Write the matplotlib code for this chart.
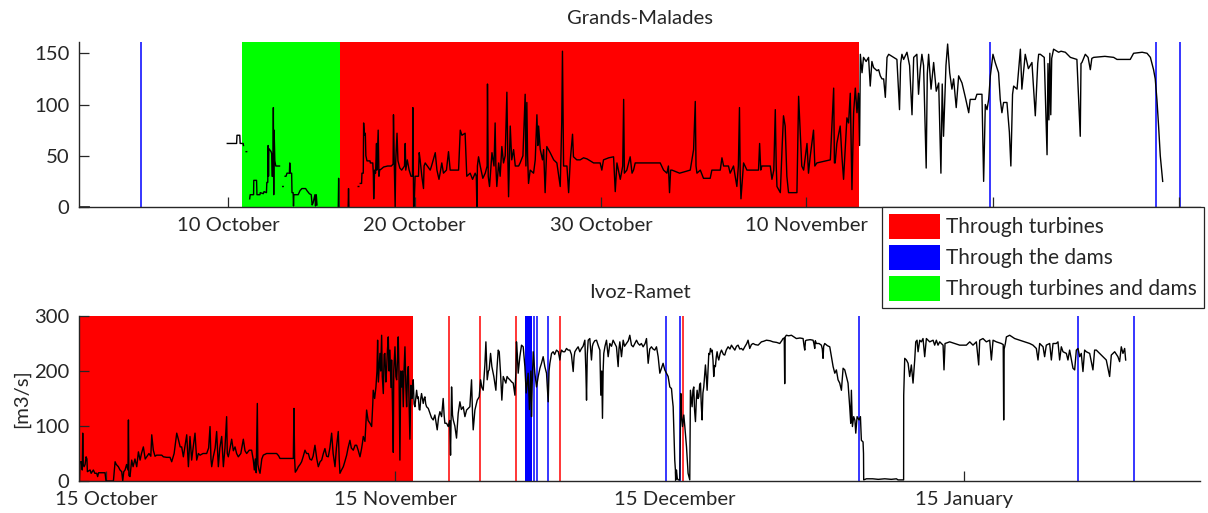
import datetime as dt

import numpy as np
import matplotlib
matplotlib.use("Agg")
import matplotlib.pyplot as plt
import matplotlib.dates as mdates
from matplotlib.patches import Patch
from matplotlib.ticker import FuncFormatter

# Time axis: days elapsed since 1 October (fractional days)
START = dt.datetime(2012, 10, 1)

# ---------------------------------------------------------------- Grands-Malades
# (day, discharge m3/s); None marks a gap in the record
gm_points = [
    (1.05, 0), (1.55, 0), (1.56, None),
    (8.95, 62), (9.45, 62), (9.47, 70), (9.62, 70), (9.64, 62), (9.80, 62), (9.82, 60), (9.83, None),
    (9.96, 54), (9.99, 54), (10.0, None),
    (10.15, 8), (10.18, 12), (10.36, 12), (10.37, 26), (10.52, 26), (10.54, 12), (10.70, 12),
    (10.72, 14), (10.88, 13), (10.92, 15), (11.05, 14), (11.07, 24), (11.12, 24), (11.14, 60),
    (11.16, 30), (11.18, 57), (11.30, 54), (11.33, 52), (11.35, 30), (11.40, 30), (11.42, 97),
    (11.44, 12), (11.46, 75), (11.50, 45), (11.55, 40), (11.75, 40), (11.76, None),
    (11.92, 20), (11.95, 20), (11.96, None),
    (12.05, 30), (12.10, 30), (12.15, 33), (12.28, 33), (12.30, 43), (12.33, 33), (12.40, 33),
    (12.42, 14), (12.48, 14), (12.50, 1), (12.52, 12), (12.75, 12), (12.85, 16), (12.95, 18),
    (13.15, 18), (13.22, 16), (13.35, 13), (13.45, 12), (13.50, 2), (13.55, 4), (13.65, 12),
    (13.68, 1), (13.72, 12), (13.76, 2), (13.77, None),
    (14.90, 0), (14.92, 28), (14.94, 0), (14.95, None),
    (15.43, 0), (15.45, 18), (15.47, 0), (15.48, None),
    (15.97, 20), (16.0, 20), (16.01, None),
    (16.08, 23), (16.15, 23), (16.17, 33), (16.24, 33), (16.26, 82), (16.30, 70), (16.35, 72),
    (16.38, 50), (16.44, 45), (16.60, 45), (16.62, 43), (16.75, 43), (16.78, 33), (16.80, 8),
    (16.85, 36), (16.90, 33), (16.95, 62), (16.97, 36), (17.04, 75), (17.08, 30), (17.12, 36),
    (17.20, 37), (17.33, 39), (17.55, 40), (17.75, 40), (17.84, 42), (17.86, 90), (17.90, 45),
    (17.95, 0), (17.98, 45), (18.05, 72), (18.10, 45), (18.2, 38), (18.3, 36), (18.45, 40),
    (18.49, 62), (18.52, 36), (18.6, 46), (18.7, 36), (18.8, 30), (18.88, 30), (18.90, 97),
    (18.94, 0), (18.97, 2), (19.02, 30), (19.2, 30), (19.24, 53), (19.29, 46), (19.38, 30),
    (19.47, 18), (19.5, 40), (19.56, 43), (19.83, 36), (19.9, 40), (20.1, 53), (20.19, 36),
    (20.3, 27), (20.36, 33), (20.45, 43), (20.54, 33), (20.7, 36), (20.81, 54), (20.9, 36),
    (21.35, 36), (21.44, 75), (21.53, 70), (21.7, 72), (21.79, 30), (21.97, 33), (22.1, 27),
    (22.24, 33), (22.3, 30), (22.33, 0), (22.36, 40), (22.42, 49), (22.51, 40), (22.65, 28),
    (22.78, 33), (22.88, 40), (22.90, 120), (22.94, 30), (23.01, 20), (23.14, 53), (23.25, 40),
    (23.31, 82), (23.35, 40), (23.4, 20), (23.5, 43), (23.58, 30), (23.67, 59), (23.76, 43),
    (23.85, 50), (23.94, 112), (23.98, 60), (24.03, 10), (24.12, 79), (24.2, 46), (24.3, 56),
    (24.39, 40), (24.57, 40), (24.65, 43), (24.8, 50), (24.92, 110), (24.96, 40), (25.01, 102),
    (25.05, 50), (25.1, 23), (25.19, 36), (25.37, 33), (25.46, 46), (25.55, 90), (25.6, 60),
    (25.64, 79), (25.73, 56), (25.85, 46), (25.91, 56), (25.99, 14), (26.08, 59), (26.26, 53),
    (26.45, 46), (26.62, 43), (26.8, 20), (26.88, 82), (26.92, 152), (26.96, 82), (26.98, 40),
    (27.16, 40), (27.25, 14), (27.34, 46), (27.46, 71), (27.51, 49), (27.69, 46), (27.87, 46),
    (28.05, 48), (28.23, 47), (28.59, 43), (28.94, 43), (29.03, 36), (29.12, 46), (29.4, 48),
    (29.66, 49), (29.75, 15), (29.84, 43), (30.02, 27), (30.15, 40), (30.2, 105), (30.24, 33),
    (30.37, 36), (30.55, 49), (30.65, 33), (30.73, 36), (30.82, 43), (31.27, 43), (31.45, 43),
    (32.16, 43), (32.34, 36), (32.52, 33), (32.6, 40), (32.66, 14), (32.72, 36), (32.79, 36),
    (33.2, 33), (33.77, 36), (33.95, 56), (34.04, 103), (34.08, 40), (34.13, 33), (34.31, 36),
    (34.48, 28), (34.84, 28), (34.93, 36), (35.38, 36), (35.47, 48), (35.56, 40), (35.82, 40),
    (35.91, 33), (36.09, 40), (36.27, 20), (36.35, 40), (36.41, 97), (36.45, 30), (36.49, 8),
    (36.63, 43), (36.81, 36), (37.43, 36), (37.49, 62), (37.55, 36), (37.61, 40), (38.06, 40),
    (38.15, 27), (38.25, 36), (38.33, 95), (38.38, 40), (38.42, 20), (38.6, 14), (38.7, 60),
    (38.77, 89), (38.86, 79), (38.95, 30), (39.04, 14), (39.49, 14), (39.58, 108), (39.67, 72),
    (39.75, 40), (39.85, 36), (40.03, 62), (40.11, 33), (40.2, 49), (40.38, 75), (40.45, 40),
    (40.56, 43), (41.28, 46), (41.46, 116), (41.5, 43), (41.54, 43), (41.63, 62), (41.81, 79),
    (41.9, 50), (41.99, 27), (42.17, 87), (42.26, 82), (42.35, 111), (42.44, 17), (42.53, 92),
    (42.62, 116), (42.71, 92), (42.79, 111), (42.85, 60), (42.89, 149), (42.98, 131),
    (43.06, 146), (43.2, 142), (43.33, 146), (43.42, 118), (43.51, 142), (43.6, 136),
    (43.78, 133), (43.87, 134), (43.96, 128), (44.05, 125), (44.14, 125), (44.23, 107),
    (44.32, 146), (44.41, 149), (44.67, 146), (44.85, 144), (44.99, 95), (45.05, 140),
    (45.12, 149), (45.21, 144), (45.39, 151), (45.53, 138), (45.66, 90), (45.75, 146),
    (45.92, 149), (46.01, 110), (46.1, 134), (46.19, 149), (46.28, 138), (46.42, 38),
    (46.48, 130), (46.55, 149), (46.68, 115), (46.82, 141), (46.96, 113), (47.09, 121),
    (47.21, 33), (47.28, 120), (47.35, 69), (47.48, 138), (47.57, 159), (47.68, 131),
    (47.8, 115), (47.89, 125), (48.03, 97), (48.16, 128), (48.34, 121), (48.52, 107),
    (48.7, 92), (48.78, 105), (49.05, 105), (49.14, 110), (49.41, 110), (49.5, 25),
    (49.59, 100), (49.68, 95), (49.77, 105), (49.86, 128), (50.0, 149), (50.12, 141),
    (50.3, 131), (50.39, 105), (50.48, 92), (50.57, 102), (50.75, 102), (50.88, 73),
    (50.96, 40), (51.05, 110), (51.11, 118), (51.29, 115), (51.47, 154), (51.55, 115),
    (51.73, 149), (51.9, 135), (52.09, 141), (52.27, 89), (52.4, 140), (52.45, 149),
    (52.54, 149), (52.75, 146), (52.9, 51), (52.95, 140), (53.0, 85), (53.05, 150),
    (53.1, 90), (53.15, 145), (53.25, 154), (53.52, 151), (53.65, 152), (53.88, 151),
    (54.15, 146), (54.5, 144), (54.68, 69), (54.72, 140), (54.77, 141), (54.95, 149),
    (55.1, 146), (55.22, 134), (55.3, 145), (55.4, 146), (56.0, 147), (56.47, 146),
    (56.65, 144), (57.36, 144), (57.54, 150), (58.0, 151), (58.26, 150), (58.44, 146),
    (58.61, 134), (58.7, 125), (58.79, 105), (58.88, 79), (58.97, 50), (59.1, 25),
]
gm_turbines = (15.0, 42.83)          # turbines only
gm_mixed = (9.75, 15.0)              # turbines and dams
gm_dam_days = [4.34, 49.86, 58.76, 60.05]

# ---------------------------------------------------------------- Ivoz-Ramet
ir_points = [
    (11.15, 0), (11.21, 35), (11.35, 35), (11.45, 20), (11.5, 87), (11.55, 30), (11.64, 26),
    (11.75, 30), (11.86, 44), (11.95, 40), (12.0, 17), (12.29, 20), (12.4, 14), (12.64, 20),
    (12.8, 14), (13.0, 14), (13.1, 8), (13.2, 15), (13.36, 15), (13.89, 15), (14.0, 0),
    (14.79, 0), (14.97, 35), (15.1, 30), (15.32, 26), (15.5, 20), (15.68, 17), (15.79, 0),
    (15.9, 17), (16.04, 20), (16.2, 30), (16.35, 20), (16.4, 111), (16.45, 10), (16.57, 8),
    (16.75, 38), (16.9, 26), (17.1, 40), (17.29, 26), (17.47, 53), (17.65, 38), (17.8, 50),
    (18.0, 62), (18.2, 40), (18.36, 44), (18.6, 50), (18.8, 45), (18.9, 84), (19.07, 56),
    (19.25, 45), (19.43, 47), (19.7, 47), (19.97, 47), (20.15, 44), (20.5, 43), (20.86, 43),
    (21.04, 35), (21.3, 50), (21.58, 87), (21.75, 76), (21.95, 62), (22.11, 62), (22.29, 44),
    (22.45, 62), (22.65, 84), (22.83, 26), (23.0, 81), (23.18, 38), (23.35, 62), (23.54, 87),
    (23.72, 38), (23.9, 50), (24.08, 47), (24.4, 50), (24.79, 50), (25.0, 60), (25.15, 99),
    (25.25, 40), (25.33, 26), (25.5, 44), (25.7, 60), (25.86, 90), (26.04, 26), (26.2, 60),
    (26.4, 81), (26.58, 26), (26.75, 60), (26.93, 117), (27.0, 50), (27.11, 44), (27.3, 60),
    (27.47, 76), (27.65, 55), (27.83, 62), (28.0, 50), (28.18, 44), (28.45, 50), (28.72, 76),
    (28.9, 55), (29.08, 50), (29.35, 56), (29.61, 56), (29.79, 38), (29.9, 20), (30.0, 40),
    (30.1, 15), (30.22, 141), (30.28, 30), (30.4, 20), (30.51, 14), (30.7, 40), (30.86, 47),
    (31.22, 50), (31.8, 50), (32.29, 50), (32.5, 46), (32.65, 41), (33.01, 41), (33.5, 41),
    (34.08, 41), (34.15, 132), (34.22, 40), (34.29, 16), (34.45, 20), (34.62, 26), (34.8, 30),
    (34.97, 35), (35.15, 45), (35.33, 56), (35.5, 50), (35.69, 50), (35.85, 40), (36.04, 38),
    (36.2, 45), (36.4, 65), (36.6, 40), (36.76, 26), (36.95, 35), (37.12, 38), (37.3, 50),
    (37.47, 59), (37.65, 45), (37.83, 44), (38.0, 60), (38.19, 87), (38.35, 50), (38.55, 26),
    (38.7, 60), (38.9, 90), (39.0, 40), (39.08, 14), (39.25, 20), (39.44, 26), (39.6, 35),
    (39.8, 47), (39.95, 60), (40.15, 74), (40.3, 60), (40.51, 56), (40.7, 65), (40.87, 65),
    (41.05, 55), (41.23, 44), (41.4, 59), (41.5, 70), (41.58, 81), (41.76, 72), (41.94, 129),
    (42.1, 110), (42.3, 105), (42.48, 99), (42.6, 140), (42.65, 165), (42.8, 150), (42.94, 171),
    (43.05, 200), (43.12, 256), (43.2, 180), (43.37, 232), (43.45, 200), (43.55, 265),
    (43.62, 190), (43.73, 159), (43.82, 230), (43.9, 232), (44.0, 180), (44.08, 202),
    (44.18, 240), (44.26, 262), (44.35, 200), (44.44, 238), (44.55, 170), (44.62, 220),
    (44.7, 150), (44.8, 52), (44.85, 200), (44.98, 244), (45.08, 190), (45.16, 184),
    (45.25, 220), (45.33, 262), (45.42, 190), (45.51, 38), (45.6, 200), (45.69, 171),
    (45.78, 200), (45.87, 135), (45.95, 200), (46.05, 244), (46.15, 170), (46.23, 135),
    (46.32, 190), (46.41, 208), (46.5, 140), (46.58, 76), (46.69, 174), (46.8, 150),
    (46.87, 165), (46.94, 184), (47.03, 140), (47.12, 135), (47.3, 165), (47.4, 150),
    (47.48, 153), (47.58, 130), (47.65, 129), (47.75, 150), (47.83, 159), (48.01, 141),
    (48.1, 150), (48.19, 153), (48.28, 140), (48.37, 135), (48.55, 132), (48.73, 123),
    (48.9, 115), (49.08, 111), (49.26, 120), (49.4, 105), (49.51, 93), (49.65, 115),
    (49.8, 126), (49.98, 117), (50.15, 150), (50.25, 120), (50.33, 105), (50.51, 105),
    (50.69, 99), (50.85, 110), (50.94, 47), (51.05, 171), (51.15, 120), (51.23, 111),
    (51.4, 100), (51.58, 78), (51.76, 123), (51.94, 144), (52.1, 130), (52.3, 135),
    (52.48, 117), (52.66, 129), (52.83, 132), (53.01, 135), (53.19, 184), (53.3, 120),
    (53.37, 93), (53.55, 129), (53.8, 147), (54.01, 153), (54.16, 184), (54.3, 170),
    (54.44, 165), (54.62, 211), (54.73, 253), (54.87, 184), (55.0, 200), (55.08, 202),
    (55.23, 232), (55.37, 208), (55.58, 190), (55.8, 165), (55.9, 200), (56.05, 238),
    (56.16, 235), (56.3, 196), (56.44, 147), (56.59, 190), (56.87, 178), (57.0, 190),
    (57.12, 187), (57.3, 184), (57.5, 180), (57.66, 178), (57.84, 156), (57.95, 200),
    (58.01, 253), (58.1, 230), (58.19, 196), (58.37, 226), (58.55, 247), (58.73, 244),
    (58.91, 208), (59.05, 160), (59.26, 196), (59.4, 130), (59.55, 200), (59.62, 117),
    (59.7, 180), (59.8, 235), (59.98, 196), (60.16, 171), (60.34, 190), (60.52, 205),
    (60.69, 214), (60.87, 226), (61.05, 208), (61.23, 196), (61.41, 144), (61.5, 200),
    (61.59, 214), (61.77, 232), (61.94, 235), (62.1, 230), (62.3, 238), (62.5, 235),
    (62.66, 220), (62.75, 232), (62.84, 238), (63.0, 235), (63.19, 235), (63.37, 241),
    (63.55, 238), (63.73, 238), (63.9, 230), (64.09, 199), (64.18, 225), (64.27, 235),
    (64.45, 240), (64.62, 244), (64.8, 235), (64.98, 241), (65.15, 245), (65.34, 256),
    (65.45, 200), (65.52, 147), (65.6, 230), (65.7, 256), (65.87, 259), (66.05, 220),
    (66.15, 245), (66.23, 250), (66.4, 255), (66.59, 256), (66.8, 245), (66.95, 238),
    (67.05, 156), (67.15, 200), (67.23, 114), (67.3, 200), (67.37, 232), (67.5, 245),
    (67.66, 256), (67.84, 226), (68.02, 250), (68.2, 245), (68.37, 256), (68.55, 250),
    (68.73, 244), (68.91, 208), (69.0, 240), (69.09, 253), (69.27, 226), (69.45, 256),
    (69.6, 245), (69.8, 250), (70.0, 255), (70.16, 265), (70.34, 247), (70.52, 244),
    (70.7, 250), (70.88, 256), (71.05, 250), (71.23, 247), (71.4, 250), (71.59, 244),
    (71.8, 250), (71.95, 259), (72.13, 214), (72.3, 240), (72.48, 244), (72.65, 240),
    (72.84, 238), (73.02, 244), (73.2, 226), (73.38, 196), (73.55, 205), (73.73, 214),
    (73.91, 202), (74.09, 196), (74.27, 190), (74.45, 171), (74.63, 168), (74.72, 150),
    (74.81, 135), (74.98, 38), (75.05, 20), (75.09, 2), (75.16, 20), (75.25, 5), (75.34, 2),
    (75.52, 2), (75.63, 159), (75.7, 120), (75.81, 99), (75.95, 120), (76.06, 99),
    (76.24, 62), (76.41, 14), (76.59, 2), (76.66, 165), (76.75, 150), (76.84, 135),
    (76.93, 165), (77.02, 171), (77.1, 130), (77.2, 108), (77.3, 150), (77.38, 165),
    (77.47, 150), (77.56, 153), (77.65, 175), (77.74, 178), (77.82, 140), (77.91, 111),
    (78.0, 160), (78.09, 171), (78.18, 190), (78.27, 211), (78.36, 190), (78.45, 165),
    (78.54, 200), (78.63, 232), (78.72, 230), (78.81, 241), (78.9, 235), (78.99, 238),
    (79.08, 220), (79.16, 190), (79.25, 210), (79.34, 208), (79.43, 225), (79.52, 235),
    (79.61, 225), (79.7, 220), (79.85, 232), (79.99, 238), (80.2, 230), (80.34, 229),
    (80.5, 238), (80.7, 244), (80.9, 240), (81.06, 247), (81.25, 242), (81.42, 238),
    (81.6, 245), (81.77, 247), (81.95, 240), (82.13, 241), (82.3, 238), (82.49, 244),
    (82.7, 250), (82.84, 256), (83.02, 241), (83.2, 248), (83.38, 250), (83.6, 248),
    (83.92, 247), (84.1, 250), (84.27, 253), (84.5, 254), (84.81, 256), (85.2, 255),
    (85.52, 253), (85.9, 252), (86.24, 250), (86.45, 255), (86.59, 259), (86.72, 260),
    (86.77, 177), (86.82, 262), (86.95, 265), (87.2, 264), (87.49, 265), (87.75, 262),
    (88.02, 259), (88.4, 260), (88.74, 259), (88.85, 245), (88.92, 238), (89.0, 255),
    (89.1, 256), (89.5, 257), (89.81, 256), (89.9, 250), (89.99, 241), (90.05, 255),
    (90.17, 250), (90.45, 250), (90.7, 247), (90.8, 240), (90.88, 223), (90.95, 245),
    (91.06, 250), (91.35, 246), (91.6, 244), (91.78, 226), (91.96, 208), (92.14, 196),
    (92.31, 202), (92.49, 184), (92.67, 178), (92.85, 165), (93.03, 205), (93.21, 202),
    (93.39, 190), (93.56, 178), (93.74, 135), (93.85, 105), (93.92, 165), (94.03, 99),
    (94.17, 117), (94.3, 110), (94.39, 87), (94.53, 117), (94.74, 111), (94.89, 117),
    (94.99, 74), (95.17, 71), (95.22, 50), (95.24, 2), (95.53, 4), (96.2, 4), (96.8, 3),
    (97.5, 4), (98.2, 3), (98.75, 4), (98.92, 2), (99.52, 2), (99.53, 156), (99.64, 223),
    (99.82, 220), (100.0, 214), (100.17, 190), (100.35, 211), (100.53, 178), (100.71, 220),
    (100.82, 253), (100.96, 256), (101.07, 235), (101.25, 256), (101.42, 253), (101.6, 259),
    (101.78, 226), (101.96, 259), (102.14, 256), (102.32, 253), (102.68, 256), (102.85, 247),
    (103.03, 256), (103.21, 247), (103.39, 253), (103.75, 247), (103.85, 202), (103.96, 250),
    (104.46, 253), (105.0, 250), (105.53, 247), (106.25, 247), (106.61, 253), (106.96, 247),
    (107.32, 253), (107.57, 211), (107.68, 256), (108.03, 259), (108.39, 253), (108.75, 256),
    (108.93, 220), (109.11, 256), (109.46, 253), (110.0, 250), (110.2, 248), (110.25, 111),
    (110.3, 240), (110.43, 250), (110.54, 262), (110.89, 265), (111.43, 259), (111.96, 256),
    (112.5, 253), (113.04, 250), (113.39, 247), (113.75, 241), (113.93, 220), (114.11, 250),
    (114.47, 244), (114.64, 226), (114.82, 247), (115.18, 250), (115.36, 220), (115.54, 250),
    (115.89, 250), (116.07, 253), (116.25, 220), (116.43, 244), (116.61, 235), (116.97, 232),
    (117.14, 220), (117.32, 238), (117.68, 205), (117.86, 202), (118.04, 238), (118.22, 241),
    (118.4, 226), (118.57, 232), (118.75, 199), (118.93, 238), (119.11, 235), (119.47, 232),
    (119.82, 202), (120.0, 238), (120.18, 238), (120.54, 232), (120.9, 226), (121.25, 220),
    (121.61, 190), (121.79, 229), (122.15, 235), (122.5, 226), (122.68, 217), (122.86, 244),
    (123.04, 232), (123.22, 241), (123.33, 220),
]
ir_turbines = (11.1, 46.9)
ir_turbine_days = [50.76, 54.09, 57.94, 62.66, 75.84]
ir_dam_band = (58.93, 59.62)
ir_dam_days = [59.87, 60.2, 61.37, 74.02, 75.52, 94.71, 118.18, 124.18]

GM_XLIM = (1.0, 61.1)
GM_LABELLED_UNTIL = 45.0   # later date labels sit beneath the legend box
IR_XLIM = (11.1, 131.3)

legend_labels = ["Through turbines", "Through the dams", "Through turbines and dams"]

RED, BLUE, GREEN = "#ff0000", "#0000ff", "#00ff00"
INK = "#262626"
FS = 14.6
LEG_FS = 15.0

plt.rcParams["font.family"] = ["Lato", "DejaVu Sans"]
plt.rcParams["text.color"] = INK
plt.rcParams["axes.labelcolor"] = INK
plt.rcParams["xtick.color"] = INK
plt.rcParams["ytick.color"] = INK

base = mdates.date2num(START)
date_fmt = mdates.DateFormatter("%-d %B")


def split(points):
    t = np.array([p[0] for p in points], float) + base
    q = np.array([np.nan if p[1] is None else p[1] for p in points], float)
    return t, q


def style_axes(ax, title):
    for side in ("top", "right"):
        ax.spines[side].set_visible(False)
    for side in ("left", "bottom"):
        ax.spines[side].set_color(INK)
        ax.spines[side].set_linewidth(1.0)
    ax.tick_params(direction="in", length=7, width=0.9, labelsize=FS, pad=7)
    ax.set_title(title, fontsize=FS, color=INK, pad=13)


fig = plt.figure(figsize=(12.08, 5.13), dpi=100)
W, H = 1208, 513
ax1 = fig.add_axes([79 / W, 1 - 207 / H, 1121 / W, 165 / H])
ax2 = fig.add_axes([79 / W, 1 - 481 / H, 1121 / W, 165 / H])

# Grands-Malades panel
ax1.axvspan(base + gm_mixed[0], base + gm_mixed[1], color=GREEN, lw=0, zorder=0)
ax1.axvspan(base + gm_turbines[0], base + gm_turbines[1], color=RED, lw=0, zorder=0)
for d in gm_dam_days:
    ax1.axvline(base + d, color=BLUE, lw=1.1, zorder=1)
t, q = split(gm_points)
ax1.plot(t, q, color="black", lw=1.0, zorder=2)
ax1.set_xlim(base + GM_XLIM[0], base + GM_XLIM[1])
ax1.set_ylim(0, 161)
ax1.set_yticks([0, 50, 100, 150])
ax1.xaxis.set_major_locator(mdates.DayLocator(bymonthday=[10, 20, 30]))
ax1.xaxis.set_major_formatter(FuncFormatter(
    lambda x, pos: date_fmt(x, pos) if x <= base + GM_LABELLED_UNTIL else ""))
style_axes(ax1, "Grands-Malades")

# Ivoz-Ramet panel
ax2.axvspan(base + ir_turbines[0], base + ir_turbines[1], color=RED, lw=0, zorder=0)
ax2.axvspan(base + ir_dam_band[0], base + ir_dam_band[1], color=BLUE, lw=0, zorder=0)
for d in ir_turbine_days:
    ax2.axvline(base + d, color=RED, lw=1.1, zorder=1)
for d in ir_dam_days:
    ax2.axvline(base + d, color=BLUE, lw=1.1, zorder=1)
t, q = split(ir_points)
ax2.plot(t, q, color="black", lw=1.0, zorder=2)
ax2.set_xlim(base + IR_XLIM[0], base + IR_XLIM[1])
ax2.set_ylim(0, 300)
ax2.set_yticks([0, 100, 200, 300])
ax2.xaxis.set_major_locator(mdates.DayLocator(bymonthday=15))
ax2.xaxis.set_major_formatter(date_fmt)
style_axes(ax2, "Ivoz-Ramet")
ax2.set_ylabel("[m3/s]", fontsize=FS, labelpad=3)

handles = [Patch(facecolor=c, edgecolor="none") for c in (RED, BLUE, GREEN)]
leg = fig.legend(handles, legend_labels, loc="upper left",
                 bbox_to_anchor=(882 / W, 1 - 207 / H), fontsize=LEG_FS,
                 frameon=True, fancybox=False, borderaxespad=0.0,
                 handlelength=2.45, handleheight=1.42, handletextpad=0.25,
                 labelspacing=0.32, borderpad=0.35)
leg.get_frame().set_edgecolor(INK)
leg.get_frame().set_linewidth(0.9)
leg.get_frame().set_alpha(1.0)
leg.set_zorder(10)

fig.savefig("out.png", dpi=100)
